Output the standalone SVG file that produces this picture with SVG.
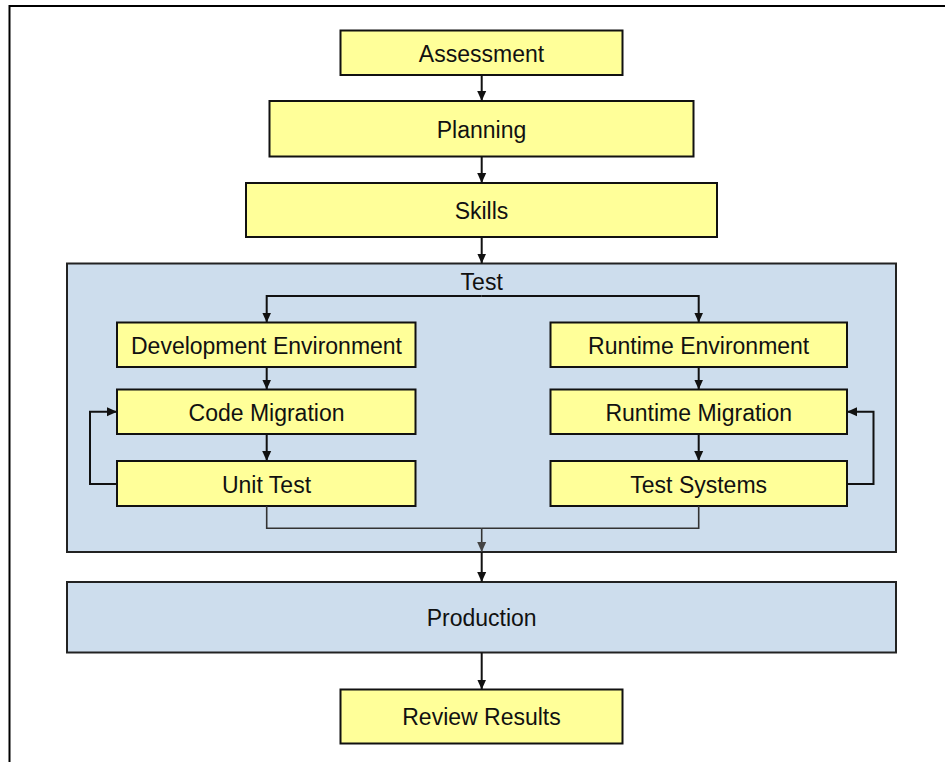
<svg xmlns="http://www.w3.org/2000/svg" width="945" height="762" viewBox="0 0 945 762">
<style>
.box{fill:#FFFF99;stroke:#111;stroke-width:2}
.cont{fill:#CDDDED;stroke:#222;stroke-width:2}
.lbl{font-family:"Liberation Sans",Arial,sans-serif;font-size:23px;fill:#111;text-anchor:middle}
.con{fill:none;stroke:#111;stroke-width:2}
.con2{fill:none;stroke:#333;stroke-width:1.6}
</style>
<defs>
<marker id="ah" markerUnits="userSpaceOnUse" markerWidth="12" markerHeight="12" viewBox="0 0 12 12" refX="10" refY="6" orient="auto">
<path d="M0,1.5 L10,6 L0,10.5 Z" fill="#111"/>
</marker>
<marker id="ahg" markerUnits="userSpaceOnUse" markerWidth="12" markerHeight="12" viewBox="0 0 12 12" refX="10" refY="6" orient="auto">
<path d="M0,1.5 L10,6 L0,10.5 Z" fill="#444"/>
</marker>
</defs>
<rect width="945" height="762" fill="#fff"/>
<path d="M9.5,762 V6 H945" fill="none" stroke="#000" stroke-width="2"/>

<g id="test">
<rect class="cont" x="67" y="263.5" width="829" height="288.5"/>
<text class="lbl" x="481.7" y="290">Test</text>
</g>
<g id="production">
<rect class="cont" x="67" y="582" width="829" height="70.5"/>
<text class="lbl" x="481.7" y="626">Production</text>
</g>
<g id="assessment">
<rect class="box" x="340.5" y="30.5" width="282" height="44.5"/>
<text class="lbl" x="481.5" y="61.5">Assessment</text>
</g>
<g id="planning">
<rect class="box" x="269.5" y="101" width="424" height="55.5"/>
<text class="lbl" x="481.5" y="137.5">Planning</text>
</g>
<g id="skills">
<rect class="box" x="246" y="183" width="471" height="54"/>
<text class="lbl" x="481.5" y="219">Skills</text>
</g>
<g id="dev-env">
<rect class="box" x="117" y="322.5" width="298.5" height="44.5"/>
<text class="lbl" x="266.5" y="354">Development Environment</text>
</g>
<g id="code-migration">
<rect class="box" x="117" y="389.5" width="298.5" height="44.5"/>
<text class="lbl" x="266.5" y="420.5">Code Migration</text>
</g>
<g id="unit-test">
<rect class="box" x="117" y="461" width="298.5" height="45"/>
<text class="lbl" x="266.5" y="492.5">Unit Test</text>
</g>
<g id="runtime-env">
<rect class="box" x="550.5" y="322.5" width="296.5" height="44.5"/>
<text class="lbl" x="698.7" y="354">Runtime Environment</text>
</g>
<g id="runtime-migration">
<rect class="box" x="550.5" y="389.5" width="296.5" height="44.5"/>
<text class="lbl" x="698.7" y="420.5">Runtime Migration</text>
</g>
<g id="test-systems">
<rect class="box" x="550.5" y="461" width="296.5" height="45"/>
<text class="lbl" x="698.7" y="492.5">Test Systems</text>
</g>
<g id="review-results">
<rect class="box" x="340.5" y="689.5" width="282" height="54"/>
<text class="lbl" x="481.5" y="725">Review Results</text>
</g>

<g id="connectors">
<path class="con" d="M481.7,75 V101" marker-end="url(#ah)"/>
<path class="con" d="M481.7,156.5 V183" marker-end="url(#ah)"/>
<path class="con" d="M481.7,237 V263.5" marker-end="url(#ah)"/>
<path class="con" d="M481.7,296 H266.7 V322.5" marker-end="url(#ah)"/>
<path class="con" d="M481.7,296 H698.7 V322.5" marker-end="url(#ah)"/>
<path class="con" d="M266.7,367 V389.5" marker-end="url(#ah)"/>
<path class="con" d="M266.7,434 V461" marker-end="url(#ah)"/>
<path class="con" d="M117,484 H90 V411.7 H117" marker-end="url(#ah)"/>
<path class="con" d="M698.7,367 V389.5" marker-end="url(#ah)"/>
<path class="con" d="M698.7,434 V461" marker-end="url(#ah)"/>
<path class="con" d="M847,484 H873.5 V411.7 H847" marker-end="url(#ah)"/>
<path class="con2" d="M266.7,506 V528.3 H481.7"/>
<path class="con2" d="M698.7,506 V528.3 H481.7"/>
<path class="con2" d="M481.7,528.3 V552" marker-end="url(#ahg)"/>
<path class="con" d="M481.7,552 V582" marker-end="url(#ah)"/>
<path class="con" d="M481.7,652.5 V689.5" marker-end="url(#ah)"/>
</g>
</svg>
